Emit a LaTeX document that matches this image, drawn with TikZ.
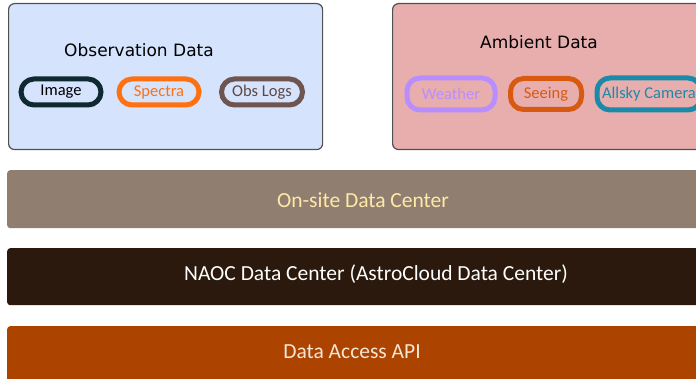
\documentclass[tikz,border=0pt]{standalone}
\usepackage{fontspec}
\setmainfont{Carlito}
\newfontfamily\titlefont{DejaVu Sans}
\definecolor{obsfill}{HTML}{D5E3FC}
\definecolor{ambfill}{HTML}{E8AEAE}
\definecolor{boxline}{HTML}{505050}
\definecolor{onsite}{HTML}{907E70}
\definecolor{onsitetxt}{HTML}{FFE9A6}
\definecolor{naoc}{HTML}{2A190C}
\definecolor{api}{HTML}{AC4400}
\definecolor{apitxt}{HTML}{F5E6D8}
\definecolor{cImage}{HTML}{0E2A30}
\definecolor{cSpectra}{HTML}{FF7010}
\definecolor{cObs}{HTML}{6E5550}
\definecolor{cWeather}{HTML}{B88EFF}
\definecolor{cSeeing}{HTML}{D85A10}
\definecolor{cAllsky}{HTML}{1A8AA8}
\tikzset{
  group/.style={draw=boxline, line width=1.2pt, rounded corners=6pt},
  grouptitle/.style={font=\titlefont\fontsize{17}{19}\selectfont, text=black},
  chip/.style={line width=5pt, rounded corners=13pt, inner sep=0pt, font=\fontsize{16.5}{18}\selectfont},
  band/.style={rounded corners=3pt},
  bandtext/.style={font=\fontsize{21.5}{24}\selectfont},
}
\begin{document}
\begin{tikzpicture}[x=1pt,y=-1pt]
\useasboundingbox (0,0) rectangle (696,379);
% groups
\node[group, fill=obsfill, minimum width=314pt, minimum height=146pt, anchor=north west] (obs) at (8,3) {};
\node[group, fill=ambfill, minimum width=320pt, minimum height=146pt, anchor=north west] (amb) at (392,3) {};
\node[grouptitle] (obst) at (139,50) {Observation Data};
\node[grouptitle] (ambt) at (539,42) {Ambient Data};
% chips
\node[chip, draw=cImage, text=black, minimum width=80pt, minimum height=26pt] (img) at (61,92) {Image};
\node[chip, draw=cSpectra, text=cSpectra, minimum width=80pt, minimum height=26pt] (spec) at (159,92) {Spectra};
\node[chip, draw=cObs, text=cObs!85!black, minimum width=81pt, minimum height=26pt] (logs) at (262,92) {Obs Logs};
\node[chip, draw=cWeather, text=cWeather, minimum width=88pt, minimum height=32pt] (wea) at (451,94) {Weather};
\node[chip, draw=cSeeing, text=cSeeing, minimum width=71pt, minimum height=31pt] (see) at (546,94) {Seeing};
\node[chip, draw=cAllsky, text=cAllsky, minimum width=104pt, minimum height=32pt] (sky) at (649,94) {Allsky Camera};
% bands
\node[band, fill=onsite, minimum width=705pt, minimum height=58pt, anchor=north west] (ons) at (7,170) {};
\node[bandtext, text=onsitetxt] (onst) at (363,200) {On-site Data Center};
\node[band, fill=naoc, minimum width=705pt, minimum height=57pt, anchor=north west] (nao) at (7,248) {};
\node[bandtext, text=white] (naot) at (376,274) {NAOC Data Center (AstroCloud Data Center)};
\node[band, fill=api, minimum width=705pt, minimum height=60pt, anchor=north west] (apib) at (7,326) {};
\node[bandtext, text=apitxt] (apit) at (352,352) {Data Access API};
\end{tikzpicture}
\end{document}
